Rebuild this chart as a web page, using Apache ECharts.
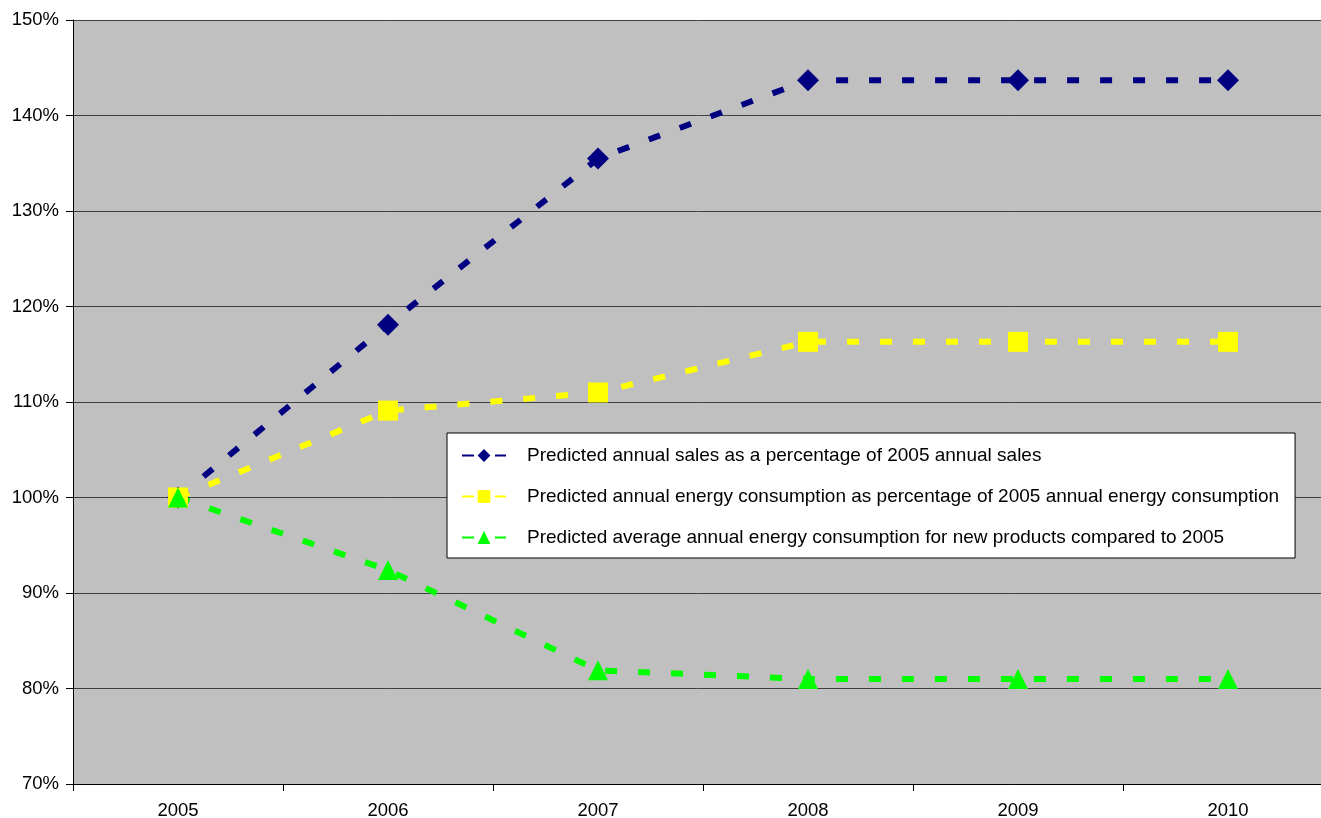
<!DOCTYPE html>
<html><head><meta charset="utf-8">
<script src="https://cdn.jsdelivr.net/npm/echarts@6/dist/echarts.min.js"></script>
<style>html,body{margin:0;padding:0;background:#fff;overflow:hidden}#c{width:1321px;height:818px}</style>
</head><body><div id="c"></div>
<script>
const years = ['2005','2006','2007','2008','2009','2010'];
const salesPct = [100, 118.1, 135.5, 143.7, 143.7, 143.7];
const energyPct = [100, 109.1, 111.0, 116.3, 116.3, 116.3];
const avgPct = [100, 92.4, 81.9, 81.0, 81.0, 81.0];
const seriesNames = [
  'Predicted annual sales as a percentage of 2005 annual sales',
  'Predicted annual energy consumption as percentage of 2005 annual energy consumption',
  'Predicted average annual energy consumption for new products compared to 2005'
];
const font = 'Liberation Sans, Arial, sans-serif';
function mk(name, data, color, symbol, size) {
  return {
    name, type: 'line', data, symbol, symbolSize: size, z: 3,
    lineStyle: { color, width: 6, type: [12, 21] },
    itemStyle: { color },
    emphasis: { disabled: true }
  };
}
const chart = echarts.init(document.getElementById('c'));
chart.setOption({
  animation: false,
  textStyle: { fontFamily: font },
  grid: { left: 73, top: 20, width: 1260, height: 764, outerBoundsMode: 'none', containLabel: false,
          show: true, backgroundColor: '#C0C0C0', borderWidth: 0 },
  xAxis: {
    type: 'category', data: years, boundaryGap: true,
    axisLine: { lineStyle: { color: '#000', width: 1 } },
    axisTick: { show: true, length: 7, lineStyle: { color: '#000' } },
    axisLabel: { color: '#000', fontSize: 18.5, margin: 17, fontFamily: font },
    splitLine: { show: false }
  },
  yAxis: {
    type: 'value', min: 70, max: 150, interval: 10,
    axisLine: { show: true, lineStyle: { color: '#000', width: 1 } },
    axisTick: { show: true, length: 7, lineStyle: { color: '#000' } },
    axisLabel: { color: '#000', fontSize: 18.5, margin: 14, fontFamily: font, formatter: v => v + '%' },
    splitLine: { show: true, lineStyle: { color: '#404040', width: 1 } }
  },
  legend: {
    orient: 'vertical', left: 447, top: 433,
    backgroundColor: '#fff', borderColor: '#000', borderWidth: 1,
    padding: [13, 16, 11, 14], itemGap: 22, itemWidth: 44, itemHeight: 16,
    textStyle: { color: '#000', fontSize: 19, fontFamily: font, padding: [0, 0, 0, 16] },
    data: seriesNames
  },
  series: [
    mk(seriesNames[0], salesPct, '#000080', 'diamond', 22),
    mk(seriesNames[1], energyPct, '#FFFF00', 'rect', 20),
    mk(seriesNames[2], avgPct, '#00FF00', 'triangle', 20)
  ]
});
</script></body></html>
